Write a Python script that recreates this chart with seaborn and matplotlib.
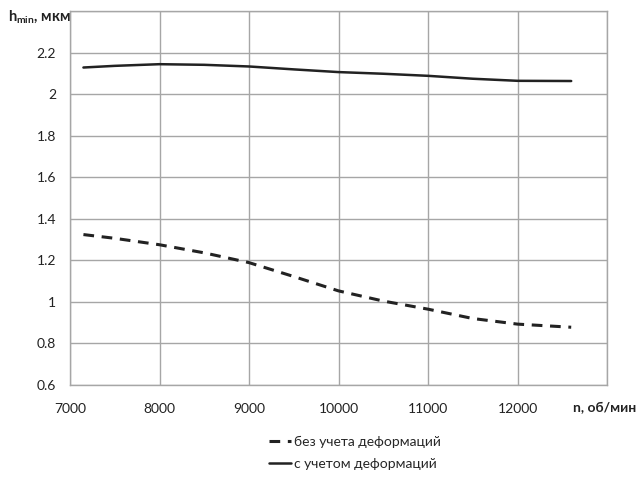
import numpy as np
import pandas as pd
import matplotlib
matplotlib.use("Agg")
import matplotlib.pyplot as plt
import seaborn as sns
from matplotlib.lines import Line2D

sns.set_style("white")
plt.rcParams['font.family'] = ['Lato', 'DejaVu Sans']

n_rpm = [7150, 7500, 8000, 8500, 9000, 9500, 10000, 10500, 11000, 11500, 12000, 12600]
h_without = [1.324, 1.306, 1.275, 1.236, 1.189, 1.122, 1.053, 1.004, 0.965, 0.920, 0.893, 0.878]
h_with = [2.128, 2.136, 2.144, 2.141, 2.133, 2.119, 2.106, 2.098, 2.088, 2.074, 2.064, 2.063]

label_without = "без учета деформаций"
label_with = "с учетом деформаций"

x_ticks = [7000, 8000, 9000, 10000, 11000, 12000, 13000]
x_ticklabels = ["7000", "8000", "9000", "10000", "11000", "12000", ""]
y_ticks = [0.6, 0.8, 1.0, 1.2, 1.4, 1.6, 1.8, 2.0, 2.2, 2.4]
y_ticklabels = ["0.6", "0.8", "1", "1.2", "1.4", "1.6", "1.8", "2", "2.2", ""]

df_without = pd.DataFrame({"n": n_rpm, "h": h_without})
df_with = pd.DataFrame({"n": n_rpm, "h": h_with})

fig = plt.figure(figsize=(6.4, 4.79), dpi=100)
ax = fig.add_axes([70/640, 1-385/479, (607-70)/640, (385-11)/479])

grid_c = "#a6a6a6"
ax.set_xlim(7000, 13000)
ax.set_ylim(0.6, 2.4)
ax.set_xticks(x_ticks)
ax.set_xticklabels(x_ticklabels)
ax.set_yticks(y_ticks)
ax.set_yticklabels(y_ticklabels)
ax.grid(True, color=grid_c, linewidth=1.0)
ax.set_axisbelow(True)
for s in ax.spines.values():
    s.set_color(grid_c)
    s.set_linewidth(1.0)
ax.tick_params(axis='both', length=4, width=1.0, color=grid_c, labelsize=10, labelcolor="#222222")
ax.tick_params(axis='x', pad=9)
ax.tick_params(axis='y', pad=6)

sns.lineplot(data=df_without, x="n", y="h", ax=ax, color="#222222", linewidth=2.2,
             linestyle=(0, (3.5, 2.5)), legend=False)
sns.lineplot(data=df_with, x="n", y="h", ax=ax, color="#222222", linewidth=1.8, legend=False)
ax.set_xlabel("")
ax.set_ylabel("")

fig.text(8/640, 1-17/479, r"h$_{\mathregular{min}}$, мкм", fontsize=10.5, fontweight="bold",
         ha="left", va="center", color="#222222")
fig.text(636/640, 1-408/479, "n, об/мин", fontsize=10, fontweight="bold",
         ha="right", va="center", color="#222222")

handles = [Line2D([], [], color="#222222", linewidth=2.2, linestyle=(0, (3.5, 2.5))),
           Line2D([], [], color="#222222", linewidth=1.8)]
fig.legend(handles, [label_without, label_with], loc="center", bbox_to_anchor=(355/640, 1-453/479),
           frameon=False, fontsize=10, handlelength=1.6, handletextpad=0.2, labelspacing=0.75)

fig.savefig("out.png", dpi=100)
